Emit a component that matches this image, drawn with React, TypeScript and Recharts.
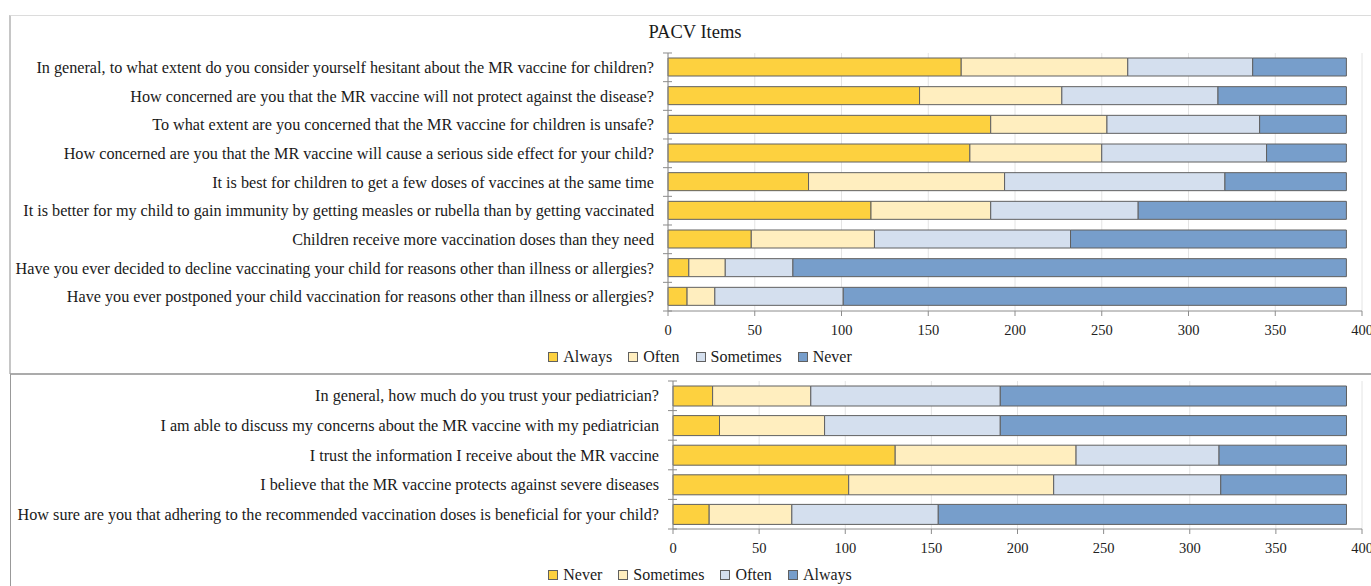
import { Bar, BarChart, CartesianGrid, Legend, XAxis, YAxis } from "recharts";

const pacvItems = [
  "In general, to what extent do you consider yourself hesitant about the MR vaccine for children?",
  "How concerned are you that the MR vaccine will not protect against the disease?",
  "To what extent are you concerned that the MR vaccine for children is unsafe?",
  "How concerned are you that the MR vaccine will cause a serious side effect for your child?",
  "It is best for children to get a few doses of vaccines at the same time",
  "It is better for my child to gain immunity by getting measles or rubella than by getting vaccinated",
  "Children receive more vaccination doses than they need",
  "Have you ever decided to decline vaccinating your child for reasons other than illness or allergies?",
  "Have you ever postponed your child vaccination for reasons other than illness or allergies?",
];
const pacvAlways = [169, 145, 186, 174, 81, 117, 48, 12, 11];
const pacvOften = [96, 82, 67, 76, 113, 69, 71, 21, 16];
const pacvSometimes = [72, 90, 88, 95, 127, 85, 113, 39, 74];
const pacvNever = [54, 74, 50, 46, 70, 120, 159, 319, 290];

const trustItems = [
  "In general, how much do you trust your pediatrician?",
  "I am able to discuss my concerns about the MR vaccine with my pediatrician",
  "I trust the information I receive about the MR vaccine",
  "I believe that the MR vaccine protects against severe diseases",
  "How sure are you that adhering to the recommended vaccination doses is beneficial for your child?",
];
const trustNever = [23, 27, 129, 102, 21];
const trustSometimes = [57, 61, 105, 119, 48];
const trustOften = [110, 102, 83, 97, 85];
const trustAlways = [201, 201, 74, 73, 237];

const pacvKeys = ["Always", "Often", "Sometimes", "Never"];
const trustKeys = ["Never", "Sometimes", "Often", "Always"];
const xTicks = [0, 50, 100, 150, 200, 250, 300, 350, 400];

const FONT = "'Liberation Serif', 'Times New Roman', serif";
const COLORS = ["#FDD13F", "#FFEEBF", "#D4DFEE", "#779ECB"];
const EDGE = "#606060";
const AXIS = "#8c8c8c";

const pacvData = pacvItems.map((item, i) => ({
  item,
  Always: pacvAlways[i],
  Often: pacvOften[i],
  Sometimes: pacvSometimes[i],
  Never: pacvNever[i],
}));

const trustData = trustItems.map((item, i) => ({
  item,
  Never: trustNever[i],
  Sometimes: trustSometimes[i],
  Often: trustOften[i],
  Always: trustAlways[i],
}));

function ItemTick(props: any) {
  const { x, y, payload, index, band, count } = props;
  return (
    <g>
      <text x={x - 14} y={y} dy="0.35em" textAnchor="end" fontSize={16.2} fill="#1a1a1a" fontFamily={FONT}>
        {payload.value}
      </text>
      <line x1={x - 5} x2={x + 4} y1={y - band / 2} y2={y - band / 2} stroke={AXIS} />
      {index === count - 1 && <line x1={x - 5} x2={x + 4} y1={y + band / 2} y2={y + band / 2} stroke={AXIS} />}
    </g>
  );
}

// legend keeps the series order instead of recharts' sorted payload
function SwatchLegend({ keys }: any) {
  return (
    <div style={{ height: 20, paddingLeft: 38, display: "flex", justifyContent: "center", alignItems: "center", fontFamily: FONT, fontSize: 16, color: "#1a1a1a" }}>
      {keys.map((k: string, i: number) => (
        <span key={k} style={{ display: "inline-flex", alignItems: "center", margin: "0 8px" }}>
          <span style={{ width: 8, height: 8, background: COLORS[i], border: `1px solid ${EDGE}`, marginRight: 5 }} />
          {k}
        </span>
      ))}
    </div>
  );
}

function StackChart({ data, keys, height, margin, yWidth, band, barSize }: any) {
  return (
    <BarChart width={1400} height={height} data={data} layout="vertical" margin={margin}>
      <CartesianGrid horizontal={false} stroke="#e4e4e4" />
      <XAxis
        type="number"
        domain={[0, 400]}
        ticks={xTicks}
        height={36}
        tick={{ fill: "#222", fontSize: 14.5, fontFamily: FONT }}
        tickSize={5}
        tickMargin={9}
        axisLine={{ stroke: AXIS }}
        tickLine={{ stroke: AXIS }}
        interval={0}
      />
      <YAxis
        type="category"
        dataKey="item"
        width={yWidth}
        tickSize={0}
        tickMargin={0}
        axisLine={{ stroke: AXIS }}
        interval={0}
        tick={(p: any) => <ItemTick {...p} band={band} count={data.length} />}
      />
      <Legend verticalAlign="bottom" align="center" content={<SwatchLegend keys={keys} />} />
      {keys.map((k: string, i: number) => (
        <Bar key={k} dataKey={k} stackId="s" fill={COLORS[i]} stroke={EDGE} strokeWidth={1} barSize={barSize} isAnimationActive={false} />
      ))}
    </BarChart>
  );
}

export default function App() {
  return (
    <div style={{ position: "absolute", left: 0, top: 0, width: 1371, height: 586, overflow: "hidden", background: "#fff" }}>
      <div style={{ position: "absolute", left: 9, top: 15, width: 1420, height: 358, borderTop: "1px solid #dcdcdc", borderLeft: "2px solid #c6c6c6" }} />
      <div style={{ position: "absolute", left: 10, top: 373, width: 1420, height: 240, borderTop: "2px solid #ababab", borderLeft: "1.5px solid #999" }} />
      <div style={{ position: "absolute", left: 595, top: 22, width: 200, textAlign: "center", fontFamily: FONT, fontSize: 18.5, color: "#1a1a1a" }}>
        PACV Items
      </div>
      <div style={{ position: "absolute", left: 0, top: 15 }}>
        <StackChart
          data={pacvData}
          keys={pacvKeys}
          height={356}
          margin={{ top: 38, right: 38, bottom: 4, left: 0 }}
          yWidth={668}
          band={28.67}
          barSize={18}
        />
      </div>
      <div style={{ position: "absolute", left: 0, top: 373 }}>
        <StackChart
          data={trustData}
          keys={trustKeys}
          height={215}
          margin={{ top: 8, right: 38, bottom: 3, left: 0 }}
          yWidth={673}
          band={29.6}
          barSize={20}
        />
      </div>
    </div>
  );
}
